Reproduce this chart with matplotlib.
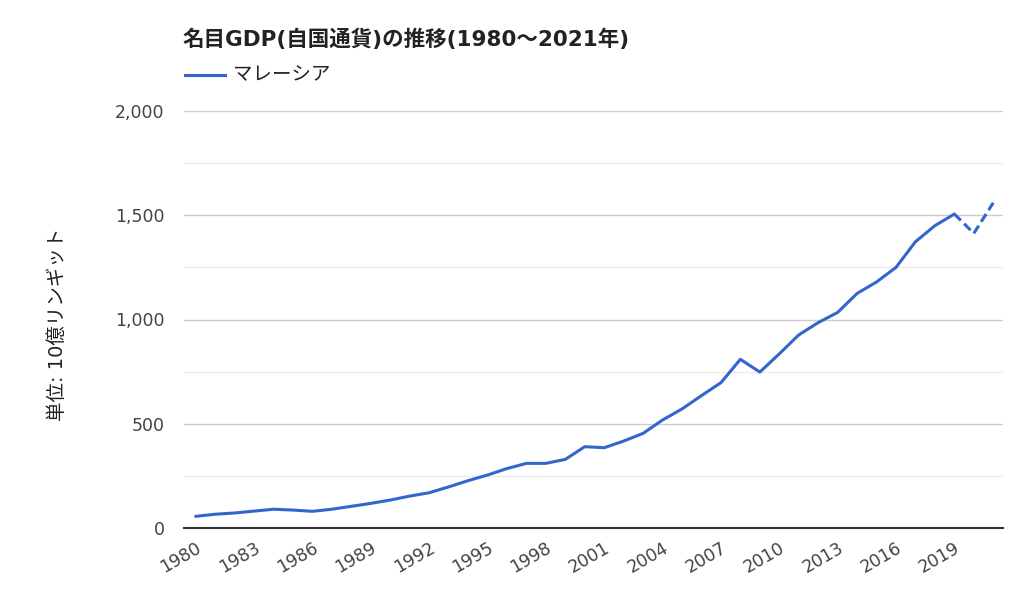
import numpy as np
import matplotlib.pyplot as plt
from matplotlib.ticker import MultipleLocator, FuncFormatter

# Latin glyphs from DejaVu (wide, Verdana-like), Japanese falls back to Noto CJK
plt.rcParams['font.family'] = ['DejaVu Sans', 'Noto Sans CJK JP']

# ── data ──────────────────────────────────────────────────────────────────
years = np.arange(1980, 2022)
gdp = [56, 66, 72, 81, 90, 86, 80, 90, 104, 118,
       134, 153, 169, 197, 227, 254, 285, 310, 310, 329,
       390, 385, 417, 454, 518, 571, 635, 697, 809, 748,
       835, 926, 985, 1034, 1125, 1180, 1250, 1373, 1450, 1506,
       1413, 1560]
estimate_from = 2019          # dashed part starts here
xtick_years = list(range(1980, 2020, 3))

TITLE = "名目GDP(自国通貨)の推移(1980～2021年)"
SERIES = "マレーシア"
YLABEL = "単位: 10億リンギット"
BLUE = "#3366CC"

# ── figure ────────────────────────────────────────────────────────────────
fig = plt.figure(figsize=(10.24, 6.14), dpi=100)
ax = fig.add_axes([184/1024, 1 - 528/614, (1003-184)/1024, (528-111)/614])

gdp = np.array(gdp, dtype=float)
solid = years <= estimate_from
dash = years >= estimate_from
ax.plot(years[solid], gdp[solid], color=BLUE, lw=2.2, solid_capstyle="round")
ax.plot(years[dash], gdp[dash], color=BLUE, lw=2.2, ls=(0, (3.0, 1.5)))

ax.set_xlim(1979.4, 2021.5)
ax.set_ylim(0, 2000)

ax.yaxis.set_major_locator(MultipleLocator(500))
ax.yaxis.set_minor_locator(MultipleLocator(250))
ax.yaxis.set_major_formatter(FuncFormatter(lambda v, p: f"{int(v):,}"))
ax.grid(which="major", axis="y", color="#cccccc", lw=1.0)
ax.grid(which="minor", axis="y", color="#ebebeb", lw=1.0)
ax.set_axisbelow(True)

ax.set_xticks(xtick_years)
ax.set_xticklabels([str(y) for y in xtick_years], rotation=30,
                   ha="right", va="top", rotation_mode="anchor")

for s in ["top", "right", "left"]:
    ax.spines[s].set_visible(False)
ax.spines["bottom"].set_color("#333333")
ax.spines["bottom"].set_linewidth(1.5)

ax.tick_params(axis="both", which="both", length=0, labelsize=12.5,
               colors="#444444")
ax.tick_params(axis="y", pad=14)
ax.tick_params(axis="x", pad=8)

fig.text(57/1024, 1 - 324/614, YLABEL, fontsize=14, color="#222222",
         rotation=90, ha="center", va="center")

fig.text(183/1024, 1 - 39/614, TITLE, fontsize=15.5, fontweight="bold",
         color="#222222", va="center", ha="left")
fig.add_artist(plt.Line2D([185/1024, 225/1024], [1 - 75/614, 1 - 75/614],
                          color=BLUE, lw=2.2))
fig.text(233/1024, 1 - 75/614, SERIES, fontsize=14, color="#222222",
         va="center", ha="left")

fig.savefig("out.png", dpi=100)
